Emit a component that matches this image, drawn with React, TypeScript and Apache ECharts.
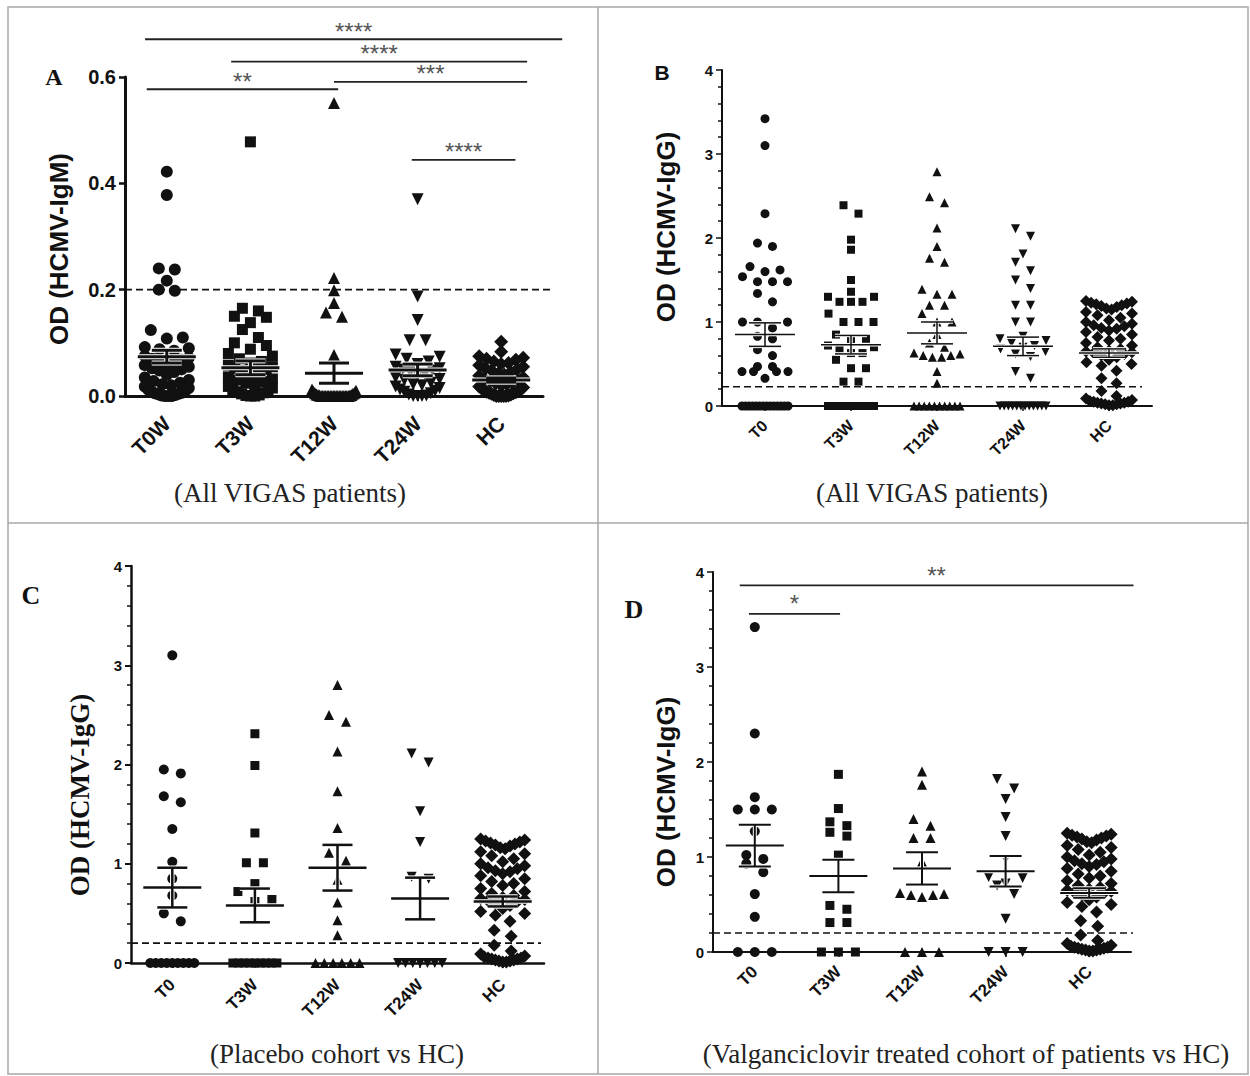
import React, { useEffect, useRef } from "react";
import * as echarts from "echarts";

// ---------------- DATA ----------------
const CATS_A = ["T0W", "T3W", "T12W", "T24W", "HC"];
const CATS_IGG = ["T0", "T3W", "T12W", "T24W", "HC"];

// Panel A – OD (HCMV-IgM), all VIGAS patients
const A_T0W = [0.422, 0.378, 0.24, 0.238, 0.217, 0.2, 0.198, 0.124, 0.11, 0.108, 0.092, 0.09, 0.088, 0.085, 0.075, 0.072, 0.07, 0.068, 0.065, 0.062, 0.06, 0.058, 0.055, 0.052, 0.05, 0.048, 0.045, 0.04, 0.035, 0.03, 0.028, 0.025, 0.022, 0.02, 0.018, 0.015, 0.012, 0.01, 0.008, 0.006, 0.005, 0.004, 0.003, 0.002, 0.001, 0, 0, 0];
const A_T3W = [0.478, 0.165, 0.16, 0.15, 0.148, 0.138, 0.125, 0.11, 0.1, 0.095, 0.088, 0.08, 0.075, 0.07, 0.065, 0.062, 0.058, 0.055, 0.052, 0.05, 0.048, 0.045, 0.042, 0.04, 0.036, 0.032, 0.03, 0.027, 0.024, 0.02, 0.018, 0.015, 0.012, 0.01, 0.008, 0.006, 0.004, 0.002, 0.001, 0, 0];
const A_T12W = [0.551, 0.222, 0.199, 0.175, 0.157, 0.149, 0.077, 0.012, 0.01, 0.008, 0.006, 0.005, 0.004, 0.003, 0.002, 0.002, 0.001, 0.001, 0, 0, 0, 0, 0, 0, 0, 0, 0, 0, 0, 0, 0, 0, 0, 0, 0, 0, 0];
const A_T24W = [0.37, 0.187, 0.143, 0.105, 0.105, 0.078, 0.074, 0.07, 0.065, 0.06, 0.055, 0.052, 0.05, 0.048, 0.045, 0.042, 0.04, 0.035, 0.032, 0.03, 0.025, 0.022, 0.02, 0.018, 0.015, 0.012, 0.01, 0.008, 0.005, 0.003, 0.001, 0, 0, 0];
const A_HC = [0.102, 0.083, 0.075, 0.072, 0.07, 0.068, 0.065, 0.062, 0.06, 0.058, 0.055, 0.052, 0.05, 0.048, 0.045, 0.042, 0.04, 0.038, 0.035, 0.032, 0.03, 0.028, 0.026, 0.024, 0.022, 0.02, 0.018, 0.016, 0.014, 0.012, 0.01, 0.009, 0.008, 0.007, 0.006, 0.005, 0.004, 0.003, 0.002, 0.001, 0, 0, 0, 0, 0];
const A_MEAN = [0.074, 0.053, 0.043, 0.049, 0.03];
const A_SEM = [0.012, 0.013, 0.019, 0.011, 0.004];
const A_CUTOFF = 0.2;
const A_SIG_FROM = [-0.26, 0.77, 2.0, -0.24, 2.93];
const A_SIG_TO = [4.73, 4.31, 4.31, 2.05, 4.17];
const A_SIG_Y = [0.671, 0.629, 0.591, 0.577, 0.444];
const A_SIG_TEXT = ["****", "****", "***", "**", "****"];

// Healthy controls (HCMV-IgG), shared by panels B, C, D
const HC_IGG = [1.25, 1.24, 1.23, 1.22, 1.21, 1.2, 1.19, 1.18, 1.16, 1.15, 1.12, 1.1, 1.08, 1.05, 1.02, 1.0, 0.98, 0.96, 0.95, 0.93, 0.92, 0.9, 0.88, 0.85, 0.82, 0.8, 0.78, 0.75, 0.72, 0.7, 0.68, 0.66, 0.65, 0.64, 0.63, 0.62, 0.6, 0.58, 0.55, 0.52, 0.5, 0.48, 0.42, 0.33, 0.27, 0.18, 0.12, 0.09, 0.07, 0.06, 0.05, 0.05, 0.04, 0.04, 0.03, 0.03, 0.02, 0.02, 0.01, 0.01];

// Panel B – OD (HCMV-IgG), all VIGAS patients
const B_T0 = [3.42, 3.1, 2.29, 1.94, 1.9, 1.66, 1.62, 1.6, 1.54, 1.48, 1.48, 1.48, 1.34, 1.24, 1.0, 1.0, 1.0, 0.93, 0.83, 0.8, 0.67, 0.6, 0.47, 0.47, 0.41, 0.41, 0.41, 0.41, 0.33, 0, 0, 0, 0, 0, 0, 0, 0, 0, 0, 0, 0, 0, 0];
const B_T3W = [2.39, 2.29, 1.98, 1.86, 1.5, 1.36, 1.3, 1.3, 1.24, 1.24, 1.24, 1.1, 1.0, 1.0, 1.0, 0.85, 0.8, 0.78, 0.72, 0.7, 0.68, 0.63, 0.63, 0.55, 0.45, 0.45, 0.29, 0.29, 0, 0, 0, 0, 0, 0, 0, 0, 0, 0, 0, 0, 0, 0];
const B_T12W = [2.79, 2.49, 2.42, 2.12, 1.9, 1.76, 1.71, 1.39, 1.33, 1.33, 1.2, 1.2, 1.1, 1.0, 1.0, 0.85, 0.75, 0.7, 0.63, 0.62, 0.6, 0.6, 0.58, 0.58, 0.41, 0.27, 0, 0, 0, 0, 0, 0, 0, 0, 0, 0];
const B_T24W = [2.11, 2.02, 1.81, 1.71, 1.61, 1.5, 1.4, 1.2, 1.2, 1.0, 1.0, 0.83, 0.8, 0.78, 0.75, 0.72, 0.7, 0.68, 0.65, 0.62, 0.59, 0.41, 0.33, 0, 0, 0, 0, 0, 0, 0, 0, 0, 0, 0, 0];
const B_MEAN = [0.85, 0.73, 0.87, 0.71, 0.63];
const B_SEM = [0.14, 0.11, 0.13, 0.11, 0.05];
const B_CUTOFF = 0.23;

// Panel C – placebo cohort vs HC
const C_T0 = [3.1, 1.95, 1.91, 1.68, 1.62, 1.35, 1.02, 0.85, 0.68, 0.5, 0.42, 0, 0, 0, 0, 0, 0, 0, 0, 0];
const C_T3W = [2.31, 1.99, 1.31, 1.01, 1.01, 0.8, 0.72, 0.64, 0.62, 0, 0, 0, 0, 0, 0, 0, 0, 0];
const C_T12W = [2.8, 2.5, 2.43, 2.13, 1.73, 1.36, 1.11, 1.03, 0.84, 0.61, 0.43, 0.28, 0, 0, 0, 0, 0, 0];
const C_T24W = [2.11, 2.02, 1.53, 1.22, 0.87, 0.85, 0, 0, 0, 0, 0, 0, 0];
const C_MEAN = [0.76, 0.58, 0.96, 0.65, 0.62];
const C_SEM = [0.2, 0.17, 0.23, 0.21, 0.05];
const C_CUTOFF = 0.2;

// Panel D – valganciclovir treated cohort vs HC
const D_T0 = [3.42, 2.3, 1.63, 1.5, 1.5, 1.5, 1.27, 1.02, 0.98, 0.93, 0.84, 0.61, 0.37, 0, 0, 0];
const D_T3W = [1.87, 1.51, 1.37, 1.33, 1.26, 1.22, 1.02, 0.49, 0.45, 0.31, 0.31, 0, 0, 0];
const D_T12W = [1.9, 1.76, 1.4, 1.33, 1.2, 1.2, 0.95, 0.62, 0.61, 0.6, 0.6, 0.58, 0, 0, 0];
const D_T24W = [1.82, 1.72, 1.61, 1.42, 1.22, 0.98, 0.79, 0.78, 0.72, 0.7, 0.61, 0.35, 0, 0, 0];
const D_MEAN = [1.12, 0.8, 0.88, 0.85, 0.62];
const D_SEM = [0.22, 0.17, 0.17, 0.16, 0.05];
const D_CUTOFF = 0.2;
const D_SIG_FROM = [-0.18, -0.07];
const D_SIG_TO = [4.53, 1.02];
const D_SIG_Y = [3.86, 3.56];
const D_SIG_TEXT = ["**", "*"];

// ---------------- STYLE / LAYOUT ----------------
const SANS = "'Liberation Sans', Arial, Helvetica, sans-serif";
const SERIF = "'Liberation Serif', 'Times New Roman', Times, serif";
const INK = "#111";
const SYMBOLS = ["circle", "rect", "triangle", "triangle", "diamond"];
const SYMBOL_ROT = [0, 0, 0, 180, 0];

type Panel = {
  cats: string[];
  groups: number[][];
  mean: number[];
  sem: number[];
  cutoff: number;
  yMax: number;
  yInterval: number;
  decimals: number;
  sig?: { from: number[]; to: number[]; y: number[]; text: string[] };
  sigGap: number;
  grid: { left: number; top: number; width: number; height: number };
  axisW: number;
  tickFont: number;
  xFont: number;
  xMargin: number;
  sym: number;
  diamond: number;
  meanW: number;
  meanHalf: number;
  semHalf: number;
  step: number;
  maxHalf: number;
  binH: number;
  minor: boolean;
  cutoffExt: number;
};

const PANELS: Panel[] = [
  {
    cats: CATS_A, groups: [A_T0W, A_T3W, A_T12W, A_T24W, A_HC], mean: A_MEAN, sem: A_SEM,
    cutoff: A_CUTOFF, yMax: 0.6, yInterval: 0.2, decimals: 1,
    sig: { from: A_SIG_FROM, to: A_SIG_TO, y: A_SIG_Y, text: A_SIG_TEXT }, sigGap: 8,
    grid: { left: 125, top: 77, width: 418, height: 319 },
    axisW: 3, tickFont: 20, xFont: 21, xMargin: 24, sym: 12, diamond: 14, meanW: 3, meanHalf: 29, semHalf: 15,
    step: 16, maxHalf: 22, binH: 10, minor: false, cutoffExt: 8,
  },
  {
    cats: CATS_IGG, groups: [B_T0, B_T3W, B_T12W, B_T24W, HC_IGG], mean: B_MEAN, sem: B_SEM,
    cutoff: B_CUTOFF, yMax: 4, yInterval: 1, decimals: 0, sigGap: 8,
    grid: { left: 722, top: 70, width: 430, height: 336 },
    axisW: 2, tickFont: 15, xFont: 16, xMargin: 17, sym: 9, diamond: 12, meanW: 1.5, meanHalf: 30, semHalf: 16,
    step: 15, maxHalf: 23, binH: 9, minor: true, cutoffExt: -10,
  },
  {
    cats: CATS_IGG, groups: [C_T0, C_T3W, C_T12W, C_T24W, HC_IGG], mean: C_MEAN, sem: C_SEM,
    cutoff: C_CUTOFF, yMax: 4, yInterval: 1, decimals: 0, sigGap: 8,
    grid: { left: 131, top: 566, width: 413, height: 397 },
    axisW: 2.5, tickFont: 15, xFont: 17, xMargin: 19, sym: 10, diamond: 13, meanW: 2.5, meanHalf: 29, semHalf: 15,
    step: 17, maxHalf: 22, binH: 10, minor: true, cutoffExt: -3,
  },
  {
    cats: CATS_IGG, groups: [D_T0, D_T3W, D_T12W, D_T24W, HC_IGG], mean: D_MEAN, sem: D_SEM,
    cutoff: D_CUTOFF, yMax: 4, yInterval: 1, decimals: 0,
    sig: { from: D_SIG_FROM, to: D_SIG_TO, y: D_SIG_Y, text: D_SIG_TEXT }, sigGap: 10,
    grid: { left: 713, top: 572, width: 418, height: 380 },
    axisW: 2, tickFont: 15, xFont: 17, xMargin: 17, sym: 10, diamond: 13, meanW: 2, meanHalf: 29, semHalf: 16,
    step: 17, maxHalf: 22, binH: 10, minor: true, cutoffExt: 2,
  },
];

const LETTERS = [
  { t: "A", x: 54, y: 77, font: `bold 24px ${SERIF}` },
  { t: "B", x: 662, y: 72, font: `bold 21px ${SANS}` },
  { t: "C", x: 31, y: 595, font: `bold 26px ${SERIF}` },
  { t: "D", x: 634, y: 609, font: `bold 26px ${SERIF}` },
];
const Y_TITLES = [
  { t: "OD (HCMV-IgM)", x: 59, y: 249, font: `bold 26px ${SANS}` },
  { t: "OD (HCMV-IgG)", x: 666, y: 227, font: `bold 26px ${SANS}` },
  { t: "OD (HCMV-IgG)", x: 80, y: 795, font: `bold 27px ${SERIF}` },
  { t: "OD (HCMV-IgG)", x: 666, y: 792, font: `bold 26px ${SANS}` },
];
const SUBTITLES = [
  { t: "(All VIGAS patients)", x: 290, y: 493 },
  { t: "(All VIGAS patients)", x: 932, y: 493 },
  { t: "(Placebo cohort vs HC)", x: 337, y: 1054 },
  { t: "(Valganciclovir treated cohort of patients vs HC)", x: 966, y: 1054 },
];

// GraphPad-like column scatter layout: bin by height, spread bins horizontally
function swarm(values: number[], pxPerUnit: number, step: number, maxHalf: number, binH: number): number[] {
  const idx = values.map((_, i) => i).sort((a, b) => values[a] - values[b]);
  const out = new Array(values.length).fill(0);
  let bin: number[] = [];
  const flush = () => {
    const n = bin.length;
    if (!n) return;
    let s = step;
    if ((n - 1) * s > 2 * maxHalf) s = (2 * maxHalf) / (n - 1);
    const pos: number[] = [];
    for (let j = 0; j < n; j++) pos.push((j - (n - 1) / 2) * s);
    pos.sort((a, b) => Math.abs(a) - Math.abs(b) || b - a);
    bin.forEach((id, j) => (out[id] = pos[j]));
    bin = [];
  };
  let start = -Infinity;
  for (const id of idx) {
    const y = values[id] * pxPerUnit;
    if (y - start > binH) {
      flush();
      start = y;
    }
    bin.push(id);
  }
  flush();
  return out;
}

function buildOption() {
  const grid: any[] = [];
  const xAxis: any[] = [];
  const yAxis: any[] = [];
  const series: any[] = [];

  PANELS.forEach((p, i) => {
    grid.push({ ...p.grid, containLabel: false });
    const axisLineStyle = { color: INK, width: p.axisW };
    xAxis.push({
      type: "category", gridIndex: i, data: p.cats, boundaryGap: true,
      axisLine: { show: true, lineStyle: axisLineStyle },
      axisTick: { show: true, alignWithLabel: true, length: 5, lineStyle: { color: INK, width: Math.max(1.5, p.axisW - 1) } },
      axisLabel: { interval: 0, rotate: 45, margin: p.xMargin, color: INK, fontSize: p.xFont, fontWeight: "bold", fontFamily: SANS },
      splitLine: { show: false },
    });
    yAxis.push({
      type: "value", gridIndex: i, min: 0, max: p.yMax, interval: p.yInterval,
      axisLine: { show: true, lineStyle: axisLineStyle },
      axisTick: { show: true, length: 6, lineStyle: { color: INK, width: Math.max(1.5, p.axisW - 0.5) } },
      minorTick: { show: p.minor, splitNumber: 5, length: 4, lineStyle: { color: INK, width: 1.5 } },
      axisLabel: { margin: 9, color: INK, fontSize: p.tickFont, fontWeight: "bold", fontFamily: SANS,
        formatter: (v: number) => v.toFixed(p.decimals) },
      splitLine: { show: false },
      minorSplitLine: { show: false },
    });

    const pxPerUnit = p.grid.height / p.yMax;

    // threshold dashed line
    series.push({
      type: "custom", xAxisIndex: i, yAxisIndex: i, silent: true, clip: false, z: 1,
      data: [[0, p.cutoff]],
      renderItem: (params: any, api: any) => {
        const pt = api.coord([0, api.value(1)]);
        const cs = params.coordSys;
        return {
          type: "line",
          shape: { x1: cs.x, y1: pt[1], x2: cs.x + cs.width + p.cutoffExt, y2: pt[1] },
          style: { stroke: INK, lineWidth: 1.6, lineDash: [7, 4] },
        };
      },
    });

    // points
    p.groups.forEach((vals, g) => {
      const offs = swarm(vals, pxPerUnit, p.step, p.maxHalf, p.binH);
      series.push({
        type: "scatter", xAxisIndex: i, yAxisIndex: i, silent: true, clip: false, z: 2,
        symbol: SYMBOLS[g], symbolRotate: SYMBOL_ROT[g],
        symbolSize: g === 4 ? p.diamond : g === 1 ? p.sym - 1 : p.sym,
        itemStyle: { color: INK, opacity: 1 },
        data: vals.map((v, k) => ({ value: [g, v], symbolOffset: [offs[k], 0] })),
      });
    });

    // mean ± SEM
    series.push({
      type: "custom", xAxisIndex: i, yAxisIndex: i, silent: true, clip: false, z: 5,
      data: p.mean.map((m, g) => [g, m, p.sem[g]]),
      encode: { x: 0, y: 1 },
      renderItem: (_params: any, api: any) => {
        const g = api.value(0), m = api.value(1), s = api.value(2);
        const pm = api.coord([g, m]);
        const pu = api.coord([g, m + s]);
        const pl = api.coord([g, Math.max(0, m - s)]);
        const mk = (x1: number, y1: number, x2: number, y2: number, col: string, w: number) => ({
          type: "line", shape: { x1, y1, x2, y2 }, style: { stroke: col, lineWidth: w },
        });
        const lines = (col: string, w: number) => [
          mk(pm[0] - p.meanHalf, pm[1], pm[0] + p.meanHalf, pm[1], col, w),
          mk(pu[0], pu[1], pu[0], pl[1], col, w),
          mk(pu[0] - p.semHalf, pu[1], pu[0] + p.semHalf, pu[1], col, w),
          mk(pl[0] - p.semHalf, pl[1], pl[0] + p.semHalf, pl[1], col, w),
        ];
        return { type: "group", children: [...lines("#ffffff", p.meanW + 2), ...lines(INK, p.meanW)] };
      },
    });

    // significance bars
    if (p.sig) {
      const sg = p.sig;
      series.push({
        type: "custom", xAxisIndex: i, yAxisIndex: i, silent: true, clip: false, z: 6,
        data: sg.y.map((y) => [0, y]),
        renderItem: (params: any, api: any) => {
          const k = params.dataIndex;
          const p0 = api.coord([0, api.value(1)]);
          const band = api.size([1, 0])[0];
          const x1 = p0[0] + sg.from[k] * band;
          const x2 = p0[0] + sg.to[k] * band;
          return {
            type: "group",
            children: [
              { type: "line", shape: { x1, y1: p0[1], x2, y2: p0[1] }, style: { stroke: "#222", lineWidth: 1.8 } },
              { type: "text", style: { x: (x1 + x2) / 2, y: p0[1] - p.sigGap, text: sg.text[k], textAlign: "center",
                  textVerticalAlign: "middle", fill: "#555", font: `24px ${SANS}` } },
            ],
          };
        },
      });
    }
  });

  const graphic: any[] = [
    { type: "rect", shape: { x: 8, y: 7, width: 1240, height: 1067 }, style: { fill: "none", stroke: "#a8a8a8", lineWidth: 1.5 }, silent: true },
    { type: "line", shape: { x1: 598, y1: 7, x2: 598, y2: 1074 }, style: { stroke: "#a8a8a8", lineWidth: 1.5 }, silent: true },
    { type: "line", shape: { x1: 8, y1: 523, x2: 1248, y2: 523 }, style: { stroke: "#a8a8a8", lineWidth: 1.5 }, silent: true },
  ];
  LETTERS.forEach((l) =>
    graphic.push({ type: "text", x: l.x, y: l.y, silent: true,
      style: { text: l.t, font: l.font, fill: INK, textAlign: "center", textVerticalAlign: "middle" } })
  );
  Y_TITLES.forEach((l) =>
    graphic.push({ type: "text", x: l.x, y: l.y, rotation: Math.PI / 2, silent: true,
      style: { text: l.t, font: l.font, fill: INK, textAlign: "center", textVerticalAlign: "middle" } })
  );
  SUBTITLES.forEach((l) =>
    graphic.push({ type: "text", x: l.x, y: l.y, silent: true,
      style: { text: l.t, font: `27px ${SERIF}`, fill: "#222", textAlign: "center", textVerticalAlign: "middle" } })
  );

  return { animation: false, backgroundColor: "#ffffff", grid, xAxis, yAxis, series, graphic };
}

export default function App() {
  const ref = useRef<HTMLDivElement>(null);
  useEffect(() => {
    if (!ref.current) return;
    const chart = echarts.init(ref.current, undefined, { renderer: "svg" });
    chart.setOption(buildOption() as any);
    return () => chart.dispose();
  }, []);
  return (
    <div
      ref={ref}
      style={{ position: "absolute", left: 0, top: 0, width: 1250, height: 1076 }}
    />
  );
}
